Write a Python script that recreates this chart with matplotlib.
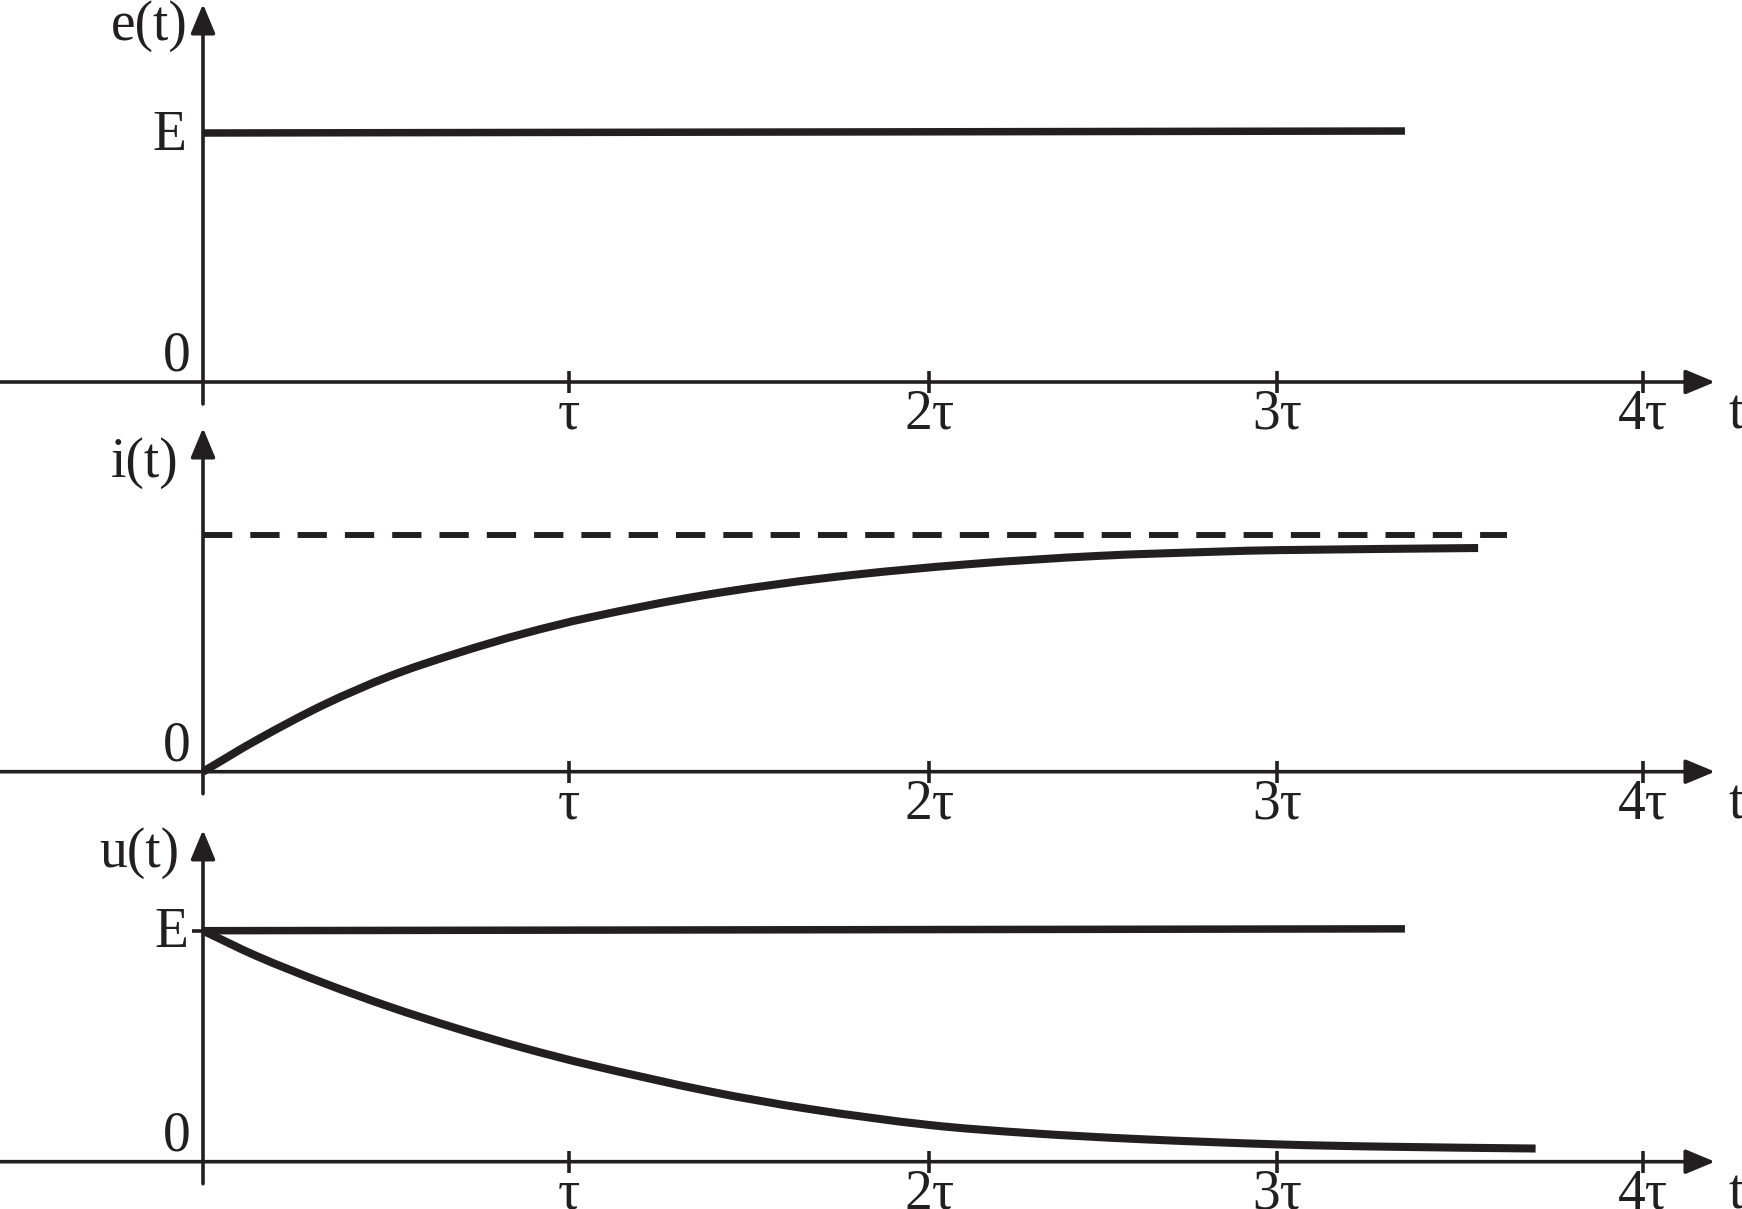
import matplotlib
matplotlib.use('Agg')
import matplotlib.pyplot as plt
from matplotlib.path import Path
from matplotlib.patches import PathPatch

W, H, DPI = 1742, 1209, 100
INK = '#231f20'
PT = 72 / DPI          # points per pixel

# time axis, in units of tau
ticks_t = [1.0, 1.984, 2.934, 3.934]
tick_labels = ['τ', '2τ', '3τ', '4τ']
t_arrow = 4.131

# e(t): source voltage, E = 1
e_t = [0.0, 3.284]
e_v = [1.0, 1.008]

# i(t): charging current, asymptote dashed
i_t = [0.0, 0.147, 0.329, 0.511, 0.693, 0.875, 1.057, 1.37, 1.722, 2.087, 2.45, 2.779, 2.934, 3.484]
i_v = [0.0, 0.134, 0.282, 0.404, 0.500, 0.583, 0.652, 0.746, 0.822, 0.876, 0.912, 0.930, 0.936, 0.945]
i_inf_t = [0.0, 3.563]
i_inf_v = [1.0, 1.0]

# u(t): E line and decaying curve
uE_t = [0.0, 3.284]
uE_v = [1.0, 1.008]
u_t = [0.0, 0.147, 0.329, 0.511, 0.693, 0.875, 1.057, 1.385, 1.657, 1.984, 2.256, 2.555, 2.934, 3.23, 3.641]
u_v = [1.0, 0.890, 0.774, 0.670, 0.577, 0.493, 0.419, 0.304, 0.228, 0.159, 0.124, 0.098, 0.075, 0.065, 0.057]

X0 = 203          # pixel of t = 0
PX_TAU = 366      # pixels per tau

plt.rcParams['font.family'] = ['Liberation Serif', 'DejaVu Serif']
plt.rcParams['font.size'] = 40

fig = plt.figure(figsize=(W / DPI, H / DPI), dpi=DPI)


def smooth(xs, ys):
    # cubic bezier path through the read points (hermite, secant slopes)
    n = len(xs)
    m = []
    for k in range(n):
        a, b = max(k - 1, 0), min(k + 1, n - 1)
        m.append((ys[b] - ys[a]) / (xs[b] - xs[a]))
    verts, codes = [(xs[0], ys[0])], [Path.MOVETO]
    for k in range(n - 1):
        h = xs[k + 1] - xs[k]
        verts += [(xs[k] + h / 3, ys[k] + m[k] * h / 3),
                  (xs[k + 1] - h / 3, ys[k + 1] - m[k + 1] * h / 3),
                  (xs[k + 1], ys[k + 1])]
        codes += [Path.CURVE4] * 3
    return Path(verts, codes)


def curve(ax, xs, ys, lw):
    ax.add_patch(PathPatch(smooth(xs, ys), fill=False, edgecolor=INK, lw=lw,
                           capstyle='butt', joinstyle='round'))


def panel(top, bottom, zero, unit):
    ax = fig.add_axes([0, 1 - bottom / H, 1, (bottom - top) / H])
    ax.set_xlim(-X0 / PX_TAU, (W - X0) / PX_TAU)
    ax.set_ylim((zero - bottom) / unit, (zero - top) / unit)
    ax.axis('off')
    return ax


def axes_lines(ax, unit, tip, ylabel, lab_off):
    arrow = dict(arrowstyle='-|>,head_length=18,head_width=7.5', mutation_scale=1,
                 lw=2.6, color=INK, shrinkA=0, shrinkB=0)
    ax.annotate('', xy=(t_arrow, 0), xytext=(ax.get_xlim()[0], 0), arrowprops=arrow)
    ax.annotate('', xy=(0, tip), xytext=(0, -22 / unit), arrowprops=arrow)
    ax.plot(ticks_t, [0] * len(ticks_t), ls='none', marker='|', ms=23 * PT,
            mew=2.6, color=INK)
    for t, lab in zip(ticks_t, tick_labels):
        ax.annotate(lab, xy=(t, 0), xytext=(0, -47 * PT), textcoords='offset points',
                    ha='center', va='baseline', color=INK)
    ax.annotate('t', xy=(t_arrow, 0), xytext=(14 * PT, -47 * PT), textcoords='offset points',
                ha='left', va='baseline', color=INK)
    ax.annotate(ylabel, xy=(0, tip), xytext=(lab_off[0] * PT, lab_off[1] * PT),
                textcoords='offset points', ha='right', va='baseline', color=INK)
    ax.annotate('0', xy=(0, 0), xytext=(-12 * PT, 11 * PT), textcoords='offset points',
                ha='right', va='baseline', color=INK)


# top: e(t)
ax1 = panel(0, 420, 382, 249)
axes_lines(ax1, 249, 1.518, 'e(t)', (-15, -36))
ax1.plot(e_t, e_v, color=INK, lw=5.4, solid_capstyle='butt')
ax1.annotate('E', xy=(0, 1), xytext=(-17 * PT, -17 * PT), textcoords='offset points',
             ha='right', va='baseline', color=INK)

# middle: i(t)
ax2 = panel(420, 810, 771.7, 236.7)
axes_lines(ax2, 236.7, 1.452, 'i(t)', (-24, -49))
ax2.plot(i_inf_t, i_inf_v, color=INK, lw=4.3, ls=(0, (4.9, 3.02)), dash_capstyle='butt')
curve(ax2, i_t, i_v, 5.8)

# bottom: u(t)
ax3 = panel(810, 1209, 1161.7, 231)
axes_lines(ax3, 231, 1.436, 'u(t)', (-24, -37))
ax3.plot(uE_t, uE_v, color=INK, lw=5.4, solid_capstyle='butt')
curve(ax3, u_t, u_v, 5.8)
ax3.hlines(1.0, -11 / PX_TAU, 0, color=INK, lw=2.6)
ax3.annotate('E', xy=(0, 1), xytext=(-15 * PT, -16 * PT), textcoords='offset points',
             ha='right', va='baseline', color=INK)

fig.savefig('out.png', dpi=DPI, facecolor='white')
